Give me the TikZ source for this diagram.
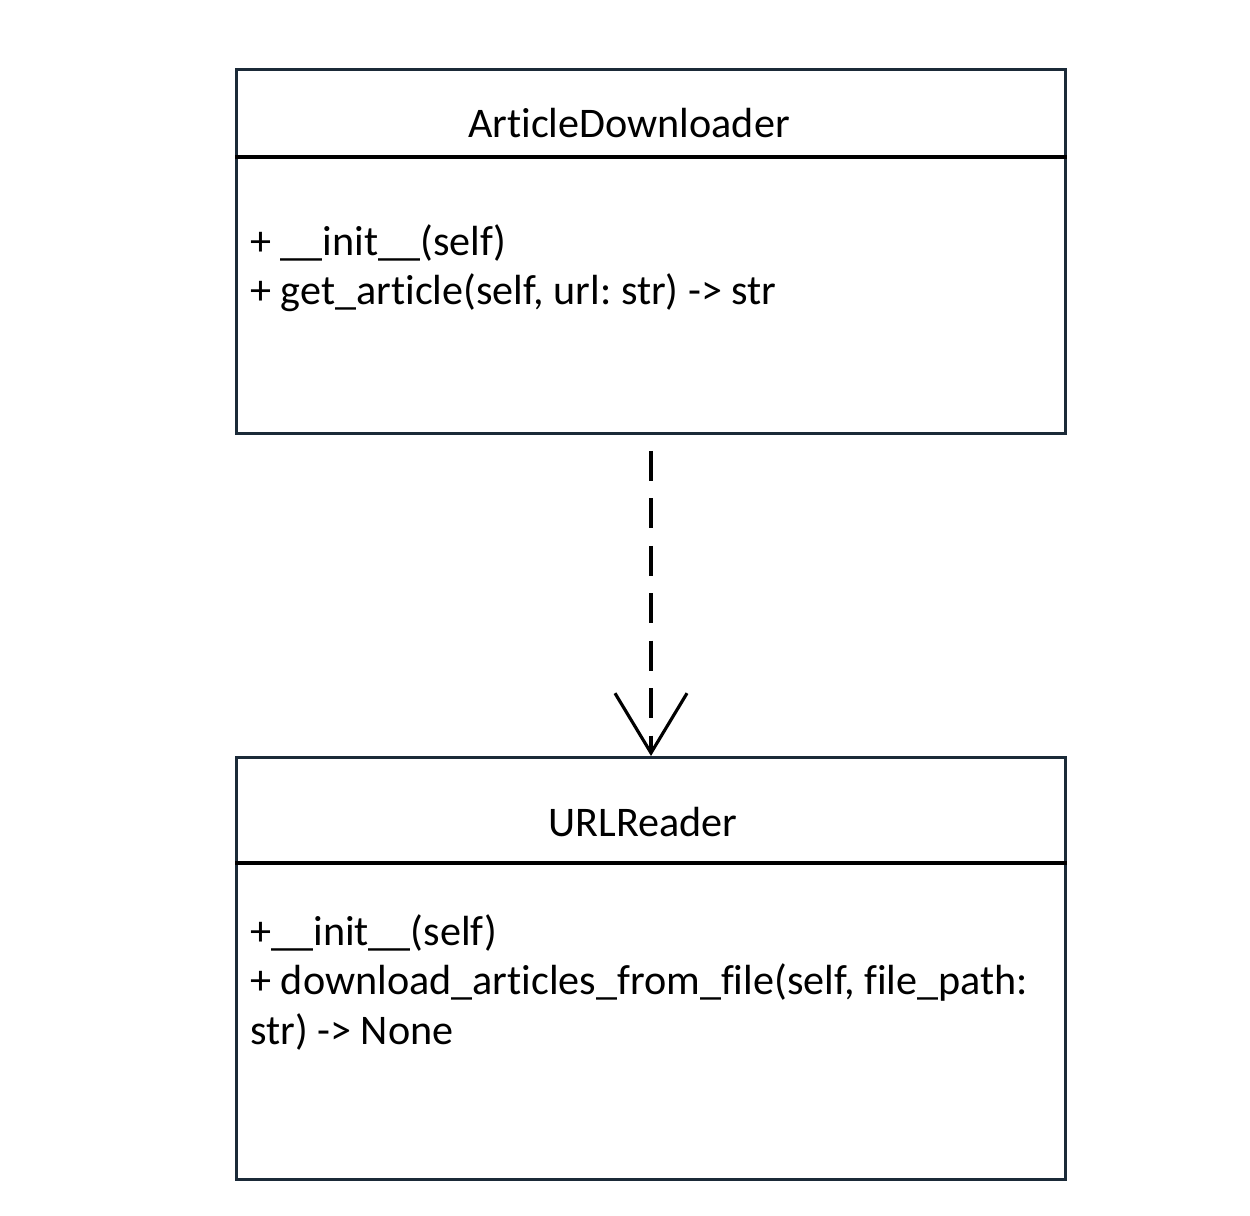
\documentclass[tikz,border=0pt]{standalone}
\usepackage{fontspec}
\setmainfont[Ligatures=NoCommon]{Carlito}
\usetikzlibrary{positioning,arrows.meta}
\definecolor{boxline}{HTML}{1B2A38}
\frenchspacing

\begin{document}
\begin{tikzpicture}[
  x=0.02cm, y=-0.02cm,
  umlbox/.style={draw=boxline, line width=1.8pt, minimum width=16.58cm, anchor=north west, inner sep=0pt},
  divider/.style={draw=black, line width=1.8pt},
  classname/.style={font=\fontsize{24}{28.3}\selectfont, inner sep=0pt},
  members/.style={font=\fontsize{24}{28.3}\selectfont, align=left, anchor=north west, inner sep=0pt},
  dep/.style={line width=1.8pt, dash pattern=on 17pt off 10pt, -{Straight Barb[length=34pt, width=41pt, line width=1.8pt]}}
]
\useasboundingbox (0,0) rectangle (1250,1216);
% class ArticleDownloader
\node[umlbox, minimum height=7.28cm] (ad) at (235,68) {};
\draw[divider] (ad.west |- 0,157) -- (ad.east |- 0,157);
\node[classname] (adname) at (629,123) {ArticleDownloader};
\node[members] (adops) at (250,224) {+ \_\_init\_\_(self)\\+ get\_article(self, url: str) -> str};
% class URLReader
\node[umlbox, minimum height=8.44cm] (ur) at (235,756) {};
\draw[divider] (ur.west |- 0,863) -- (ur.east |- 0,863);
\node[classname] (urname) at (643,822) {URLReader};
\node[members] (urops) at (250,914) {+\_\_init\_\_(self)\\+ download\_articles\_from\_file(self, file\_path:\\str) -> None};
% dependency
\draw[dep] ([yshift=-9pt]ad.south) -- (ur.north);
\end{tikzpicture}
\end{document}
